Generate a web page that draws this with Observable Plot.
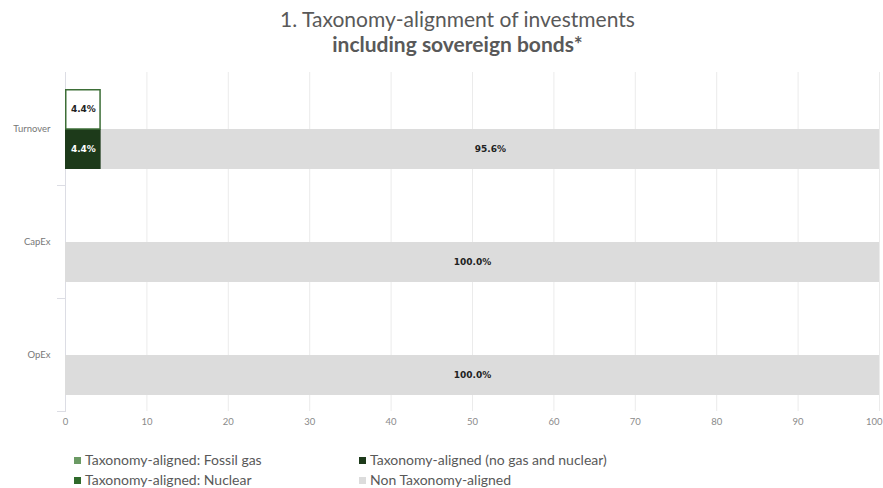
<!DOCTYPE html>
<html><head><meta charset="utf-8">
<script src="https://cdn.jsdelivr.net/npm/d3@7"></script>
<script src="https://cdn.jsdelivr.net/npm/@observablehq/plot@0.6"></script>
<style>
body{margin:0;background:#fff;font-family:Lato,"Open Sans",sans-serif;}
#wrap{width:883px;height:488px;position:relative;overflow:hidden;background:#fff}
.t1{position:absolute;left:50px;width:815px;top:6px;text-align:center;font-size:21px;color:#595959;line-height:26px;}
.t2{position:absolute;left:50px;width:815px;top:32px;text-align:center;font-size:21px;font-weight:bold;color:#595959;line-height:24px;}
#chart{position:absolute;top:58px;left:0}
#legend{position:absolute;left:74px;top:451px;display:grid;grid-template-columns:285px 300px;grid-auto-flow:column;grid-template-rows:20px 20px;font-size:14px;color:#595959;}
#legend span.sw{display:inline-block;width:7px;height:7px;margin-right:4px;vertical-align:middle;position:relative;top:-1px}
</style></head>
<body><div id="wrap">
<div class="t1">1. Taxonomy-alignment of investments</div>
<div class="t2">including sovereign bonds*</div>
<div id="chart"></div>
<div id="legend"></div>
</div>
<script>
const categories = ["Turnover", "CapEx", "OpEx"];
const seriesNames = ["Taxonomy-aligned: Fossil gas", "Taxonomy-aligned: Nuclear", "Taxonomy-aligned (no gas and nuclear)", "Non Taxonomy-aligned"];
const seriesColors = ["#6b9a64", "#2f6a2b", "#1d3a1a", "#dcdcdc"];
const fossilGas = [0, 0, 0];
const nuclear = [0, 0, 0];
const alignedNoGasNuclear = [4.4, 0, 0];
const nonAligned = [95.6, 100.0, 100.0];
const outlinedAligned = [4.4, 0, 0];
const xTicks = [0, 10, 20, 30, 40, 50, 60, 70, 80, 90, 100];

const seriesValues = [fossilGas, nuclear, alignedNoGasNuclear, nonAligned];
const lower = [];
categories.forEach((c, i) => seriesNames.forEach((s, j) => lower.push({cat: c, row: "lower", series: s, value: seriesValues[j][i]})));
const upper = categories.map((c, i) => ({cat: c, row: "upper", value: outlinedAligned[i]})).filter(d => d.value > 0);
const fmt = v => d3.format(".1f")(v) + "%";
const dark = seriesNames[2];
const labelFont = "DejaVu Sans, sans-serif";

const chart = Plot.plot({
  width: 883, height: 385,
  marginLeft: 65, marginRight: 4, marginTop: 14, marginBottom: 32,
  style: {fontFamily: "Lato, sans-serif", background: "transparent"},
  x: {domain: [0, 100], label: null, axis: null},
  y: {domain: ["upper", "lower"], paddingInner: 0, paddingOuter: 0.41, axis: null},
  fy: {domain: categories, padding: 0, label: null, axis: null},
  color: {domain: seriesNames, range: seriesColors},
  marks: [
    Plot.gridX(xTicks.slice(1), {stroke: "#ebebeb", strokeOpacity: 1}),
    Plot.ruleX([0], {stroke: "#dcdde4"}),
    Plot.frame({anchor: "bottom", stroke: "#dcdde4", insetLeft: -8, insetRight: 814}),
    Plot.barX(lower, Plot.stackX({x: "value", y: "row", fy: "cat", z: "series", fill: "series", order: seriesNames})),
    Plot.barX(upper, {x: "value", y: "row", fy: "cat", fill: "white", stroke: "#3d6e37", strokeWidth: 1.5, insetLeft: 0.75, insetRight: 0.75, insetTop: 0.75}),
    Plot.textX(lower, Plot.stackX({x: "value", y: "row", fy: "cat", z: "series", order: seriesNames, text: d => d.value > 0 && d.series !== dark ? fmt(d.value) : null, fill: "#222", fontWeight: "bold", fontSize: 9, fontFamily: labelFont})),
    Plot.textX(lower, Plot.stackX({x: "value", y: "row", fy: "cat", z: "series", order: seriesNames, text: d => d.value > 0 && d.series === dark ? fmt(d.value) : null, fill: "white", fontWeight: "bold", fontSize: 9, fontFamily: labelFont})),
    Plot.textX(upper, {x: d => d.value / 2, y: "row", fy: "cat", text: d => fmt(d.value), fill: "#222", fontWeight: "bold", fontSize: 9, fontFamily: labelFont}),
    Plot.axisFy({anchor: "left", tickSize: 0, tickPadding: 15, fontSize: 9.5, color: "#777", label: null}),
    Plot.axisX(xTicks.slice(0, -1), {anchor: "bottom", tickSize: 0, tickPadding: 7, fontSize: 9.5, color: "#8a8a8a", label: null}),
    Plot.axisX(xTicks.slice(-1), {anchor: "bottom", tickSize: 0, tickPadding: 7, fontSize: 9.5, color: "#8a8a8a", label: null, textAnchor: "end", dx: 3})
  ]
});
document.getElementById("chart").appendChild(chart);

const legend = document.getElementById("legend");
seriesNames.forEach((s, i) => {
  const div = document.createElement("div");
  div.innerHTML = `<span class="sw" style="background:${seriesColors[i]}"></span>${s}`;
  legend.appendChild(div);
});
</script>
</body></html>
